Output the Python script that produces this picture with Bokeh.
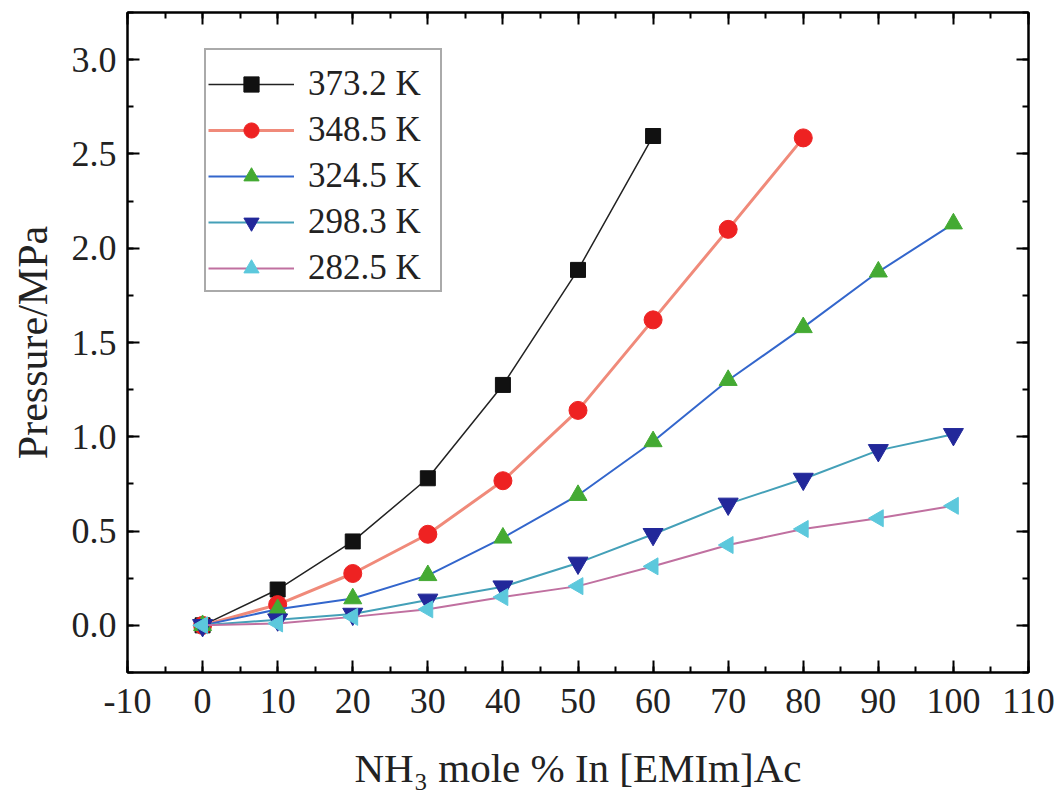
from bokeh.plotting import figure
from bokeh.models import (Range1d, SingleIntervalTicker, NumeralTickFormatter,
                          LinearAxis, Legend, LegendItem, CustomJSTickFormatter)
from bokeh.embed import file_html
from bokeh.resources import INLINE
import numpy as np

# ---- data ----
labels = ["373.2 K", "348.5 K", "324.5 K", "298.3 K", "282.5 K"]
x_373 = [0, 10, 20, 30, 40, 50, 60]
p_373 = [0.0, 0.19, 0.445, 0.78, 1.275, 1.885, 2.595]
x_348 = [0, 10, 20, 30, 40, 50, 60, 70, 80]
p_348 = [0.0, 0.11, 0.275, 0.483, 0.767, 1.14, 1.62, 2.10, 2.585]
x_324 = [0, 10, 20, 30, 40, 50, 60, 70, 80, 90, 100]
p_324 = [0.0, 0.085, 0.142, 0.265, 0.464, 0.69, 0.975, 1.30, 1.58, 1.875, 2.13]
x_298 = [0, 10, 20, 30, 40, 50, 60, 70, 80, 90, 100]
p_298 = [0.0, 0.03, 0.06, 0.135, 0.205, 0.331, 0.483, 0.644, 0.776, 0.928, 1.013]
x_282 = [0, 10, 20, 30, 40, 50, 60, 70, 80, 90, 100]
p_282 = [0.0, 0.01, 0.045, 0.085, 0.15, 0.208, 0.313, 0.426, 0.511, 0.568, 0.634]

FONT = "Liberation Serif"

p = figure(width=1060, height=798, output_backend="svg", toolbar_location=None,
           x_range=Range1d(-10, 110), y_range=Range1d(-0.25, 3.25),
           min_border_left=127, min_border_right=32, min_border_top=12,
           min_border_bottom=126, background_fill_color="white",
           border_fill_color="white")
p.xgrid.visible = False
p.ygrid.visible = False
p.outline_line_color = "black"
p.outline_line_width = 2

def style_axis(ax, show_labels=True):
    ax.axis_line_color = "black"
    ax.axis_line_width = 2
    ax.major_tick_in = 12
    ax.major_tick_out = 0
    ax.minor_tick_in = 6
    ax.minor_tick_out = 0
    ax.major_tick_line_width = 2
    ax.minor_tick_line_width = 2
    ax.major_tick_line_color = "black"
    ax.minor_tick_line_color = "black"
    ax.major_label_text_font = FONT
    ax.major_label_text_color = "#222222"
    ax.axis_label_text_font = FONT
    ax.axis_label_text_font_style = "normal"
    ax.axis_label_text_color = "#222222"
    if not show_labels:
        ax.formatter = CustomJSTickFormatter(code="return ''")
        ax.major_label_standoff = 0

p.xaxis.ticker = SingleIntervalTicker(interval=10, num_minor_ticks=2)
p.yaxis.ticker = SingleIntervalTicker(interval=0.5, num_minor_ticks=2)
p.xaxis.formatter = NumeralTickFormatter(format="0")
p.yaxis.formatter = NumeralTickFormatter(format="0.0")
style_axis(p.xaxis[0])
style_axis(p.yaxis[0])
p.xaxis.major_label_text_font_size = "36px"
p.yaxis.major_label_text_font_size = "36px"
p.xaxis.major_label_standoff = 16
p.yaxis.major_label_standoff = 11
p.xaxis.axis_label = "NH\u2083 mole % In [EMIm]Ac"
p.yaxis.axis_label = "Pressure/MPa"
p.xaxis.axis_label_text_font_size = "41px"
p.yaxis.axis_label_text_font_size = "42px"
p.xaxis.axis_label_standoff = 29
p.yaxis.axis_label_standoff = 13

top = LinearAxis(ticker=SingleIntervalTicker(interval=10, num_minor_ticks=2))
style_axis(top, show_labels=False)
p.add_layout(top, "above")
right = LinearAxis(ticker=SingleIntervalTicker(interval=0.5, num_minor_ticks=2))
style_axis(right, show_labels=False)
p.add_layout(right, "right")

series = [
    (x_373, p_373, "square", "#111111", "#222222", 1.5, 15, 0.0),
    (x_348, p_348, "circle", "#EE2222", "#F08A7A", 3.0, 18, 0.0),
    (x_324, p_324, "triangle", "#44AA33", "#3366CC", 2.0, 18, 0.0),
    (x_298, p_298, "inverted_triangle", "#22289A", "#44A0B8", 2.0, 20, 0.0),
    (x_282, p_282, "triangle", "#5CC8DC", "#C070A0", 2.0, 17, np.pi / 2),
]

items = []
for (xs, ys, mk, mcol, lcol, lw, size, ang), lab in zip(series, labels):
    r1 = p.line(xs, ys, line_color=lcol, line_width=lw)
    r2 = p.scatter(xs, ys, marker=mk, size=size, fill_color=mcol,
                   line_color=mcol, angle=ang)
    items.append(LegendItem(label=lab, renderers=[r1, r2]))

legend = Legend(items=items, location=(77, 380), margin=0,
                label_text_font=FONT, label_text_font_size="35px",
                label_text_color="#222222",
                glyph_width=86, glyph_height=38, label_height=38,
                label_width=130, label_standoff=14, spacing=6, padding=2,
                title=" ", title_text_font_size="11px", title_standoff=0,
                border_line_color="#555555", border_line_width=2,
                background_fill_color="white", background_fill_alpha=1.0)
p.add_layout(legend, "center")

open("out.html", "w").write(file_html(p, INLINE))
